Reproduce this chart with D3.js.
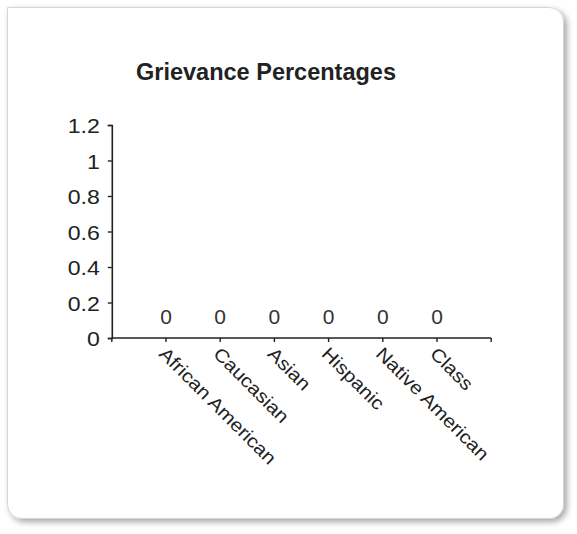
<!DOCTYPE html>
<html><head><meta charset="utf-8">
<script src="https://cdn.jsdelivr.net/npm/d3@7"></script>
<style>body{margin:0;background:#fff}svg{display:block}text{font-family:"Liberation Sans",Arial,sans-serif}</style>
</head><body>
<script>
const title = "Grievance Percentages";
const categories = ["African American","Caucasian","Asian","Hispanic","Native American","Class"];
const values = [0,0,0,0,0,0];
const yTicks = [0,0.2,0.4,0.6,0.8,1,1.2];

const W=577,H=534;
const svg=d3.select("body").append("svg").attr("width",W).attr("height",H);
const defs=svg.append("defs");
const f=defs.append("filter").attr("id","sh").attr("x","-5%").attr("y","-5%").attr("width","115%").attr("height","115%");
f.append("feGaussianBlur").attr("in","SourceAlpha").attr("stdDeviation",3).attr("result","b");
f.append("feOffset").attr("in","b").attr("dx",3).attr("dy",3).attr("result","o");
f.append("feComponentTransfer").attr("in","o").attr("result","o2").append("feFuncA").attr("type","linear").attr("slope",0.35);
const m=f.append("feMerge");m.append("feMergeNode").attr("in","o2");m.append("feMergeNode").attr("in","SourceGraphic");

// frame: square top-left corner, rounded others
const fx=7.5, fy=7.5, fw=556, fh=511, r=14;
const p=d3.path();
p.moveTo(fx,fy); p.lineTo(fx+fw-r,fy); p.arcTo(fx+fw,fy,fx+fw,fy+r,r);
p.lineTo(fx+fw,fy+fh-r); p.arcTo(fx+fw,fy+fh,fx+fw-r,fy+fh,r);
p.lineTo(fx+r,fy+fh); p.arcTo(fx,fy+fh,fx,fy+fh-r,r); p.closePath();
svg.append("path").attr("d",p.toString()).attr("fill","#fff").attr("stroke","#d6d6d6").attr("stroke-width",1).attr("filter","url(#sh)");

svg.append("text").attr("x",266).attr("y",80).attr("text-anchor","middle")
  .attr("font-size",23.5).attr("font-weight","bold").attr("fill","#222").text(title);

const y=d3.scaleLinear().domain([0,1.2]).range([338,125]);
const x=d3.scalePoint().domain(categories).range([166,437]);
const step=x.step();
const x0=x(categories[0])-step, x1=x(categories[categories.length-1])+step;

const yAxis=d3.axisLeft(y).tickValues(yTicks).tickSize(4).tickPadding(8).tickFormat(d=>d3.format("")(d));
const ga=svg.append("g").attr("transform",`translate(${x0},0)`).call(yAxis);
ga.select(".domain").attr("stroke","#222").attr("stroke-width",1.6);
ga.selectAll(".tick line").attr("stroke","#222").attr("stroke-width",1.4);
ga.selectAll(".tick text").attr("font-size",21).attr("fill","#222").attr("font-family","Liberation Sans, Arial, sans-serif")
  .attr("transform","scale(1.1,1)").attr("dy","0.36em").attr("x",-12/1.1);

// x axis line
const gx=svg.append("g");
gx.append("line").attr("x1",x0).attr("x2",x1).attr("y1",y(0)).attr("y2",y(0)).attr("stroke","#222").attr("stroke-width",1.6);
const tickPos=[x0].concat(categories.map(c=>x(c))).concat([x1]);
gx.selectAll("line.t").data(tickPos).join("line").attr("class","t")
  .attr("x1",d=>d).attr("x2",d=>d).attr("y1",y(0)).attr("y2",y(0)+4).attr("stroke","#222").attr("stroke-width",1.4);

// category labels
gx.selectAll("text.c").data(categories).join("text").attr("class","c")
  .attr("transform",c=>`translate(${x(c)-8},${y(0)+17}) rotate(45) scale(1.12,1)`)
  .attr("font-size",18.5).attr("fill","#222").text(c=>c);

// data labels
svg.selectAll("text.v").data(categories).join("text").attr("class","v")
  .attr("x",c=>x(c)).attr("y",(c,i)=>y(values[i])-14).attr("text-anchor","middle")
  .attr("font-size",21).attr("fill","#333").text((c,i)=>values[i]);
</script>
</body></html>
